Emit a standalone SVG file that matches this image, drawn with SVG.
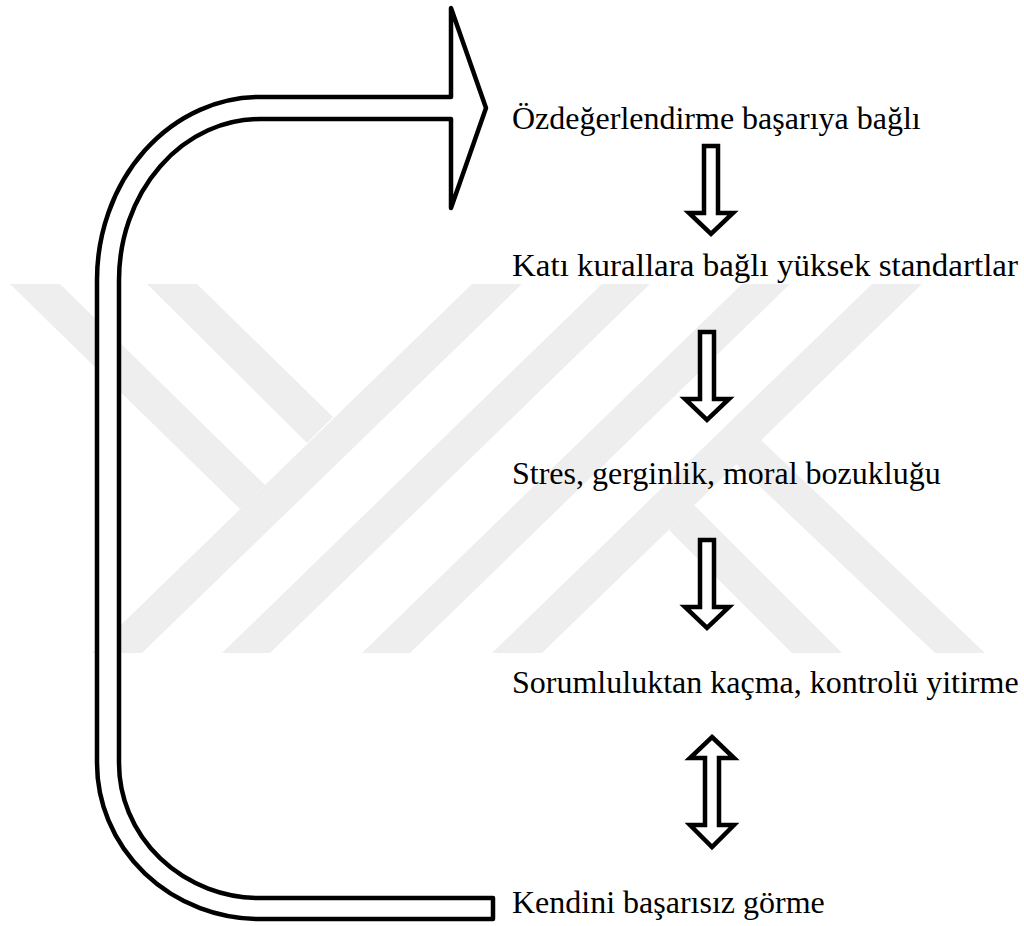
<svg xmlns="http://www.w3.org/2000/svg" width="1024" height="926" viewBox="0 0 1024 926">
<style>
.wm{fill:#eeeeee;stroke:none}
.arr{fill:#ffffff;stroke:#000000;stroke-width:4.5;stroke-linejoin:miter}
.big{fill:#ffffff;stroke:#000000;stroke-width:4.5;stroke-linejoin:round}
</style>
<rect width="1024" height="926" fill="#ffffff"/>
<g id="watermark">
<polygon class="wm" points="472,284 522,284 142,653 92,653"/>
<polygon class="wm" points="602,284 650,284 270,653 222,653"/>
<polygon class="wm" points="742,284 790,284 410,653 362,653"/>
<polygon class="wm" points="872,284 922,284 542,653 492,653"/>
<polygon class="wm" points="10,284 60,284 265,485 240,509"/>
<polygon class="wm" points="147,284 197,284 333,417 307,443"/>
<polygon class="wm" points="711,440 761,440 985,653 935,653"/>
<polygon class="wm" points="669,530 694,505 842,653 792,653"/>
</g>
<g id="connectors">
<path id="loop-arrow" class="big" d="M493,898 L260,898 A141,135 0 0 1 119,763 L119,280 A141,161 0 0 1 260,119 L451,119 L451,208 L486,108 L451,8 L451,97 L260,97 A163,183 0 0 0 97,280 L97,763 A163,156 0 0 0 260,919 L493,919 Z"/>
<path id="arrow1" class="arr" d="M704,146 L718,146 L718,213 L733,213 L711,234 L689,213 L704,213 Z"/>
<path id="arrow2" class="arr" d="M700,332 L714,332 L714,399 L729,399 L707,420 L685,399 L700,399 Z"/>
<path id="arrow3" class="arr" d="M700,540 L714,540 L714,607 L729,607 L707,628 L685,607 L700,607 Z"/>
<path id="arrow4" class="arr" d="M712,737 L734,758 L719,758 L719,825 L734,825 L712,847 L690,825 L705,825 L705,758 L690,758 Z"/>
</g>
<g font-family="Liberation Serif, Times New Roman, serif" font-size="32" fill="#000000">
<g id="node1"><text x="512" y="129">Özdeğerlendirme başarıya bağlı</text></g>
<g id="node2"><text x="512" y="276" textLength="506" lengthAdjust="spacingAndGlyphs">Katı kurallara bağlı yüksek standartlar</text></g>
<g id="node3"><text x="512" y="484">Stres, gerginlik, moral bozukluğu</text></g>
<g id="node4"><text x="512" y="693">Sorumluluktan kaçma, kontrolü yitirme</text></g>
<g id="node5"><text x="512" y="913">Kendini başarısız görme</text></g>
</g>
</svg>
